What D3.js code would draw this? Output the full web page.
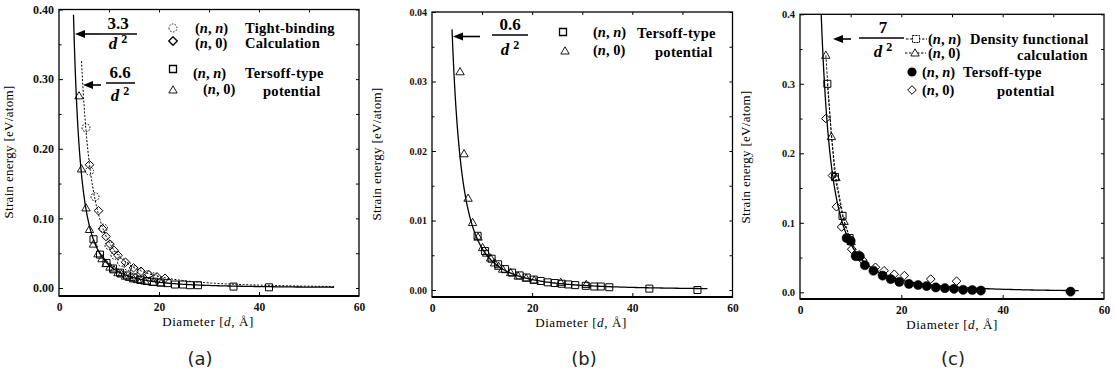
<!DOCTYPE html>
<html>
<head>
<meta charset="utf-8">
<script src="https://cdn.jsdelivr.net/npm/d3@7"></script>
<style>
body { margin: 0; background: #fff; }
svg { display: block; }
</style>
</head>
<body>
<svg id="chart" width="1115" height="375"></svg>
<script>
// ---- values ----
const xTicks = [0, 20, 40, 60]
const yTicksA = [0, 0.1, 0.2, 0.3, 0.4]
const yTicksB = [0, 0.01, 0.02, 0.03, 0.04]
const yTicksC = [0, 0.1, 0.2, 0.3, 0.4]
const panelLetters = ["(a)", "(b)", "(c)"]

// c / d^2 fits, and the diameter range each one is drawn over
const fitCoefA = [3.3, 6.6]
const fitRangeA = [[2.9, 55], [4.5, 55]]
const fitCoefB = [0.6]
const fitRangeB = [[4.0, 55]]
const fitCoefC = [7]
const fitRangeC = [[4.0, 55]]

// (a) tight-binding: [diameter, strain energy]
const tbArmA = [[5.4, 0.230], [6.1, 0.168], [7.2, 0.131], [8.9, 0.086], [10.0, 0.061], [11.2, 0.047], [12.5, 0.037],
    [13.8, 0.031], [15.1, 0.026], [16.4, 0.022], [17.7, 0.019], [19.0, 0.016]]
const tbZigA = [[6.1, 0.177], [7.9, 0.111], [8.7, 0.085], [9.4, 0.074], [10.2, 0.063], [11.0, 0.054], [11.8, 0.047],
    [13.3, 0.037], [14.9, 0.029], [16.4, 0.024], [18.0, 0.019], [19.6, 0.016], [21.2, 0.014]]
// (a) Tersoff-type
const tsArmA = [[6.9, 0.070], [8.2, 0.048], [9.5, 0.036], [10.8, 0.028], [12.2, 0.022], [13.6, 0.018], [14.9, 0.015],
    [16.3, 0.012], [17.6, 0.010], [19.0, 0.009], [20.3, 0.008], [21.7, 0.007], [23.2, 0.005], [24.8, 0.005],
    [26.2, 0.004], [27.8, 0.004], [34.9, 0.002], [42.0, 0.001]]
const tsZigA = [[4.0, 0.276], [4.5, 0.171], [5.4, 0.115], [6.1, 0.084], [6.9, 0.063], [7.8, 0.049], [8.6, 0.042],
    [9.4, 0.035], [10.2, 0.030], [11.0, 0.026], [11.8, 0.022], [12.5, 0.020], [13.3, 0.017], [14.1, 0.015],
    [14.9, 0.013], [15.7, 0.012], [16.4, 0.011], [17.2, 0.010], [18.8, 0.008], [20.4, 0.007]]

// (b) Tersoff-type
const tsArmB = [[9.1, 0.0078], [10.6, 0.0056], [11.9, 0.0045], [13.2, 0.0037], [14.6, 0.0030], [16.0, 0.0025],
    [17.5, 0.0021], [18.9, 0.0018], [20.3, 0.0015], [21.7, 0.0013], [23.1, 0.0011], [24.5, 0.0010], [25.9, 0.0009],
    [27.2, 0.0008], [28.6, 0.0007], [30.7, 0.0006], [32.4, 0.0005], [33.7, 0.0005], [35.4, 0.0004], [43.4, 0.0002],
    [53.0, 0.0000]]
const tsZigB = [[5.6, 0.0314], [6.4, 0.0196], [7.2, 0.0132], [8.1, 0.0097], [9.2, 0.0076], [10.1, 0.0061],
    [10.9, 0.0053], [11.7, 0.0046], [12.5, 0.0039], [13.3, 0.0034], [14.1, 0.0030], [15.7, 0.0025], [17.2, 0.0020],
    [18.8, 0.0017], [20.4, 0.0014], [25.7, 0.0011], [30.8, 0.0008]]

// (c) density functional
const dftArmC = [[5.4, 0.300], [6.9, 0.166], [8.4, 0.110], [9.8, 0.078]]
const dftZigC = [[5.1, 0.341], [6.2, 0.224], [7.1, 0.165], [8.7, 0.102], [10.1, 0.073], [11.7, 0.054]]
// (c) Tersoff-type
const tsArmC = [[9.2, 0.078], [10.0, 0.074], [11.0, 0.052], [11.8, 0.052], [12.8, 0.039], [14.5, 0.031],
    [16.3, 0.024], [17.9, 0.019], [19.6, 0.015], [21.5, 0.012], [23.3, 0.0105], [25.0, 0.009], [26.8, 0.007],
    [28.6, 0.006], [30.4, 0.005], [32.2, 0.0035], [34.0, 0.0033], [35.7, 0.0025], [53.4, 0.0010]]
const tsZigC = [[5.1, 0.250], [6.4, 0.168], [7.2, 0.123], [8.2, 0.094], [10.2, 0.062], [12.4, 0.046], [14.9, 0.036],
    [16.6, 0.031], [18.6, 0.026], [20.6, 0.024], [25.8, 0.019], [30.9, 0.016]]

const SERIF = "'Liberation Serif', 'Times New Roman', serif"
const svg = d3.select("#chart")

/* marker shapes, centred on (x, y) */
const shapes = {
    square: (x, y) => `M${x - 3.5},${y - 3.5}h7v7h-7Z`,
    triangle: (x, y) => `M${x},${y - 4.2}L${x + 4.2},${y + 3}L${x - 4.2},${y + 3}Z`,
    diamond: (x, y) => `M${x},${y - 4.3}L${x + 4.3},${y}L${x},${y + 4.3}L${x - 4.3},${y}Z`,
    circle: (x, y) => `M${x - 4},${y}a4,4 0 1,0 8,0a4,4 0 1,0 -8,0Z`,
    dot: (x, y) => `M${x - 4.6},${y}a4.6,4.6 0 1,0 9.2,0a4.6,4.6 0 1,0 -9.2,0Z`,
}
const markerStyle = {
    square: { fill: "none", dash: null, sw: 1 },
    triangle: { fill: "none", dash: null, sw: 0.9 },
    diamond: { fill: "none", dash: null, sw: 1 },
    circle: { fill: "none", dash: "1.6,1.4", sw: 1 },
    dot: { fill: "#000", dash: null, sw: 0.5 },
}

function drawMarkers(g, data, x, y, type) {
    const st = markerStyle[type]
    g.append("g")
        .selectAll("path")
        .data(data)
        .join("path")
        .attr("d", d => shapes[type](x(d[0]), y(d[1])))
        .attr("fill", st.fill === "none" ? "#fff" : st.fill)
        .attr("fill-opacity", st.fill === "none" ? 0 : 1)
        .attr("stroke", "#000")
        .attr("stroke-width", st.sw)
        .attr("stroke-dasharray", st.dash)
}

/* c / d^2 curve drawn through the panel scales */
function drawFit(g, coef, range, x, y, dash) {
    const ds = d3.range(0, 201).map(i => range[0] * Math.pow(range[1] / range[0], i / 200))
    g.append("path")
        .datum(ds)
        .attr("d", d3.line().x(d => x(d)).y(d => y(coef / (d * d))))
        .attr("fill", "none")
        .attr("stroke", "#000")
        .attr("stroke-width", dash ? 1 : 1.3)
        .attr("stroke-dasharray", dash)
}

function drawPolyline(g, data, x, y, dash) {
    g.append("path")
        .datum(data)
        .attr("d", d3.line().x(d => x(d[0])).y(d => y(d[1])))
        .attr("fill", "none")
        .attr("stroke", "#000")
        .attr("stroke-width", 0.9)
        .attr("stroke-dasharray", dash)
}

/* "(n, n)" style label with italic n */
function pairText(g, px, py, second, size) {
    const t = g.append("text").attr("x", px).attr("y", py)
        .attr("font-family", SERIF).attr("font-size", size).attr("font-weight", "bold")
    t.append("tspan").text("(")
    t.append("tspan").attr("font-style", "italic").text("n")
    t.append("tspan").text(", ")
    t.append("tspan").attr("font-style", second === "n" ? "italic" : null).text(second)
    t.append("tspan").text(")")
}

function boldText(g, px, py, str, size) {
    g.append("text").attr("x", px).attr("y", py)
        .attr("font-family", SERIF).attr("font-size", size).attr("font-weight", "bold")
        .attr("letter-spacing", 0.3)
        .text(str)
}

/* arrow pointing left to the fit curve plus the c / d^2 fraction */
function fitLabel(g, f) {
    g.append("line").attr("x1", f.tip + 6).attr("x2", f.tail).attr("y1", f.ay).attr("y2", f.ay)
        .attr("stroke", "#000").attr("stroke-width", 1.6)
    g.append("path")
        .attr("d", `M${f.tip},${f.ay}L${f.tip + 10},${f.ay - 4}L${f.tip + 10},${f.ay + 4}Z`)
        .attr("fill", "#000")
    g.append("line").attr("x1", f.bar[0]).attr("x2", f.bar[1]).attr("y1", f.barY).attr("y2", f.barY)
        .attr("stroke", "#000").attr("stroke-width", 1.5)
    g.append("text").attr("x", f.cx).attr("y", f.numY).attr("text-anchor", "middle")
        .attr("font-family", SERIF).attr("font-size", 17).attr("font-weight", "bold")
        .text(f.num)
    const den = g.append("text").attr("x", f.cx).attr("y", f.denY).attr("text-anchor", "middle")
        .attr("font-family", SERIF).attr("font-size", 17).attr("font-weight", "bold")
    den.append("tspan").attr("font-style", "italic").text("d")
    den.append("tspan").attr("dx", 4).attr("dy", -6).attr("font-size", 12).text("2")
}

function drawPanel(p) {
    const x = d3.scaleLinear().domain([0, 60]).range([p.left, p.right])
    const y = d3.scaleLinear().domain([0, p.yMax]).range([p.zeroY, p.topY])
    const g = svg.append("g")

    const clipId = "clip-" + p.key
    svg.append("clipPath").attr("id", clipId)
        .append("rect").attr("x", p.left).attr("y", p.topY)
        .attr("width", p.right - p.left).attr("height", p.bottom - p.topY)

    // frame
    g.append("rect")
        .attr("x", p.left).attr("y", p.topY)
        .attr("width", p.right - p.left).attr("height", p.bottom - p.topY)
        .attr("fill", "none").attr("stroke", "#000").attr("stroke-width", 1.3)
    g.append("line").attr("x1", p.left).attr("x2", p.right).attr("y1", p.bottom).attr("y2", p.bottom)
        .attr("stroke", "#000").attr("stroke-width", 2)

    const styleAxis = (sel, size) => {
        sel.select(".domain").remove()
        sel.attr("font-family", SERIF).attr("font-size", size).attr("font-weight", "bold")
        sel.selectAll("text").attr("fill", "#111")
    }
    const yMinor = p.yTicks.slice(1).map((v, i) => (v + p.yTicks[i]) / 2)
    const xMinor = [10, 30, 50]

    // left axis with labels, ticks pointing in
    const axL = g.append("g").attr("transform", `translate(${p.left},0)`)
        .call(d3.axisLeft(y).tickValues(p.yTicks).tickFormat(d3.format(p.fmt))
            .tickSizeInner(-4).tickSizeOuter(0).tickPadding(5))
    styleAxis(axL, p.yFont)
    g.append("g").attr("transform", `translate(${p.left},0)`)
        .call(d3.axisLeft(y).tickValues(yMinor).tickFormat("").tickSizeInner(-2.5).tickSizeOuter(0))
        .call(s => s.select(".domain").remove())
    g.append("g").attr("transform", `translate(${p.right},0)`)
        .call(d3.axisRight(y).tickValues(p.yTicks.concat(yMinor)).tickFormat("").tickSizeInner(-3).tickSizeOuter(0))
        .call(s => s.select(".domain").remove())

    // bottom axis with labels
    const axB = g.append("g").attr("transform", `translate(0,${p.bottom})`)
        .call(d3.axisBottom(x).tickValues(xTicks).tickFormat(d3.format("d"))
            .tickSizeInner(-4).tickSizeOuter(0).tickPadding(7))
    styleAxis(axB, 11.5)
    axB.selectAll(".tick line").filter(d => d === 0 || d === 60).remove()
    g.append("g").attr("transform", `translate(0,${p.topY})`)
        .call(d3.axisTop(x).tickValues([20, 40].concat(xMinor)).tickFormat("").tickSizeInner(-3).tickSizeOuter(0))
        .call(s => s.select(".domain").remove())

    // axis titles
    g.append("text")
        .attr("transform", `translate(${p.yTitleX},${p.yTitleY}) rotate(-90)`)
        .attr("text-anchor", "middle").attr("font-family", SERIF).attr("font-size", 13)
        .attr("letter-spacing", 0.3)
        .text("Strain energy [eV/atom]")
    const xt = g.append("text").attr("x", p.xTitleX).attr("y", p.xTitleY)
        .attr("text-anchor", "middle").attr("font-family", SERIF).attr("font-size", 13)
        .attr("letter-spacing", 0.6)
    xt.append("tspan").text("Diameter [")
    xt.append("tspan").attr("font-style", "italic").text("d")
    xt.append("tspan").text(", Å]")

    g.append("text").attr("x", p.letterX).attr("y", 365)
        .attr("text-anchor", "middle").attr("font-family", "'DejaVu Sans', sans-serif")
        .attr("font-size", 18).attr("fill", "#222")
        .text(p.letter)

    const plot = g.append("g").attr("clip-path", `url(#${clipId})`)
    p.fits.forEach((c, i) => drawFit(plot, c, p.fitRanges[i], x, y, p.fitDash[i]))
    p.lines.forEach(l => drawPolyline(plot, l.data, x, y, l.dash))
    p.series.forEach(s => drawMarkers(plot, s.data, x, y, s.type))

    p.fitLabels.forEach(f => fitLabel(g, f))
    p.legend(g)
}

const FS = 14.5

const panels = [
    {
        key: "a", letter: panelLetters[0], left: 59, right: 359, zeroY: 288, topY: 9.5, bottom: 296,
        yMax: 0.4, yTicks: yTicksA, fmt: ".2f", yFont: 12,
        yTitleX: 13, yTitleY: 152, xTitleX: 208, xTitleY: 326, letterX: 200,
        fits: fitCoefA, fitRanges: fitRangeA, fitDash: [null, "2,1.6"],
        lines: [],
        series: [
            { data: tbArmA, type: "circle" }, { data: tbZigA, type: "diamond" },
            { data: tsArmA, type: "square" }, { data: tsZigA, type: "triangle" },
        ],
        fitLabels: [
            { tip: 75, tail: 100, ay: 34, bar: [100, 137], barY: 34, cx: 118, num: "3.3", numY: 29, denY: 49 },
            { tip: 83, tail: 101, ay: 85, bar: [106, 135], barY: 83, cx: 120, num: "6.6", numY: 78, denY: 101 },
        ],
        legend: g => {
            g.append("path").attr("d", shapes.circle(173, 28)).attr("fill", "none").attr("stroke", "#000")
                .attr("stroke-width", 0.9).attr("stroke-dasharray", "1.6,1.4")
            g.append("path").attr("d", shapes.diamond(173, 41)).attr("fill", "none").attr("stroke", "#000").attr("stroke-width", 1.3)
            g.append("path").attr("d", shapes.square(173, 69)).attr("fill", "none").attr("stroke", "#000").attr("stroke-width", 1.3)
            g.append("path").attr("d", shapes.triangle(173, 90)).attr("fill", "none").attr("stroke", "#000").attr("stroke-width", 0.9)
            pairText(g, 195, 33, "n", FS); boldText(g, 245, 33, "Tight-binding", FS)
            pairText(g, 195, 47.5, "0", FS); boldText(g, 245, 47.5, "Calculation", FS)
            pairText(g, 193, 78, "n", FS); boldText(g, 245, 78, "Tersoff-type", FS)
            pairText(g, 203, 94, "0", FS); boldText(g, 263, 96, "potential", FS)
        },
    },
    {
        key: "b", letter: panelLetters[1], left: 432, right: 732.5, zeroY: 290, topY: 12, bottom: 297,
        yMax: 0.04, yTicks: yTicksB, fmt: ".2f", yFont: 10,
        yTitleX: 381, yTitleY: 154, xTitleX: 581, xTitleY: 327, letterX: 584,
        fits: fitCoefB, fitRanges: fitRangeB, fitDash: [null],
        lines: [],
        series: [{ data: tsArmB, type: "square" }, { data: tsZigB, type: "triangle" }],
        fitLabels: [
            { tip: 453, tail: 480, ay: 36.5, bar: [492, 528], barY: 35, cx: 510, num: "0.6", numY: 30, denY: 55 },
        ],
        legend: g => {
            g.append("path").attr("d", shapes.square(563, 32)).attr("fill", "none").attr("stroke", "#000").attr("stroke-width", 1.3)
            g.append("path").attr("d", shapes.triangle(565, 51)).attr("fill", "none").attr("stroke", "#000").attr("stroke-width", 0.9)
            pairText(g, 593, 37, "n", FS); boldText(g, 637, 38, "Tersoff-type", FS)
            pairText(g, 593, 55, "0", FS); boldText(g, 655, 57, "potential", FS)
        },
    },
    {
        key: "c", letter: panelLetters[2], left: 800, right: 1104, zeroY: 292.3, topY: 14.3, bottom: 299,
        yMax: 0.4, yTicks: yTicksC, fmt: ".1f", yFont: 10.5,
        yTitleX: 750, yTitleY: 157, xTitleX: 952, xTitleY: 329, letterX: 953,
        fits: fitCoefC, fitRanges: fitRangeC, fitDash: [null],
        lines: [{ data: dftArmC, dash: "2.5,1.5" }, { data: dftZigC, dash: "2.5,1.5" }],
        series: [
            { data: tsZigC, type: "diamond" }, { data: tsArmC, type: "dot" },
            { data: dftArmC, type: "square" }, { data: dftZigC, type: "triangle" },
        ],
        fitLabels: [
            { tip: 833, tail: 851, ay: 39, bar: [859, 904], barY: 38, cx: 883, num: "7", numY: 33, denY: 57 },
        ],
        legend: g => {
            g.append("line").attr("x1", 906).attr("x2", 927).attr("y1", 39).attr("y2", 39)
                .attr("stroke", "#000").attr("stroke-dasharray", "2.5,1.5")
            g.append("path").attr("d", shapes.square(916, 39)).attr("fill", "#fff").attr("stroke", "#000").attr("stroke-width", 1)
                .attr("stroke-dasharray", "2,1")
            g.append("line").attr("x1", 905).attr("x2", 926).attr("y1", 53).attr("y2", 53)
                .attr("stroke", "#000").attr("stroke-dasharray", "2.5,1.5")
            g.append("path").attr("d", shapes.triangle(915, 53)).attr("fill", "#fff").attr("stroke", "#000").attr("stroke-width", 0.9)
            g.append("path").attr("d", shapes.dot(912, 72)).attr("fill", "#000")
            g.append("path").attr("d", shapes.diamond(912, 90)).attr("fill", "none").attr("stroke", "#000").attr("stroke-width", 1)
            pairText(g, 928, 43.5, "n", FS); boldText(g, 970, 43.5, "Density functional", FS)
            pairText(g, 928, 58, "0", FS); boldText(g, 1017, 60, "calculation", FS)
            pairText(g, 922, 77, "n", FS); boldText(g, 963, 77, "Tersoff-type", FS)
            pairText(g, 922, 95, "0", FS); boldText(g, 997, 96, "potential", FS)
        },
    },
]

panels.forEach(drawPanel)
</script>
</body>
</html>
